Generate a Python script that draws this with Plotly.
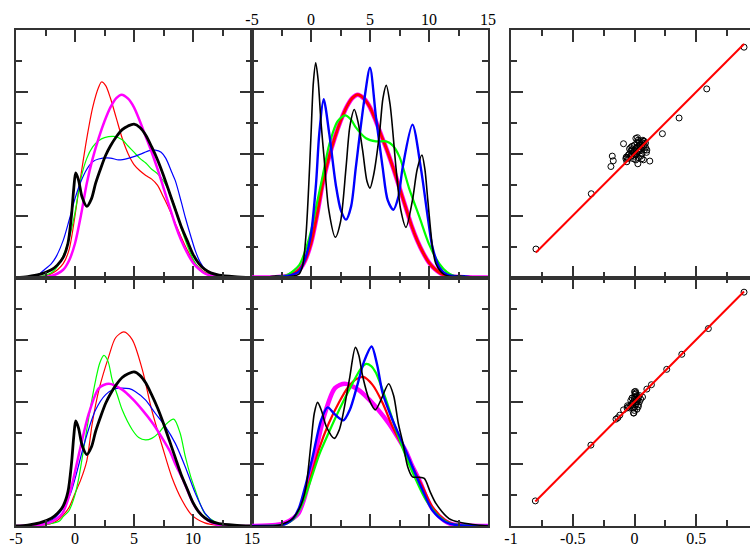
import numpy as np
import plotly.graph_objects as go

# ---------------- data ----------------
# density panels: x in [-5, 15], y in arbitrary density units (axis 0..8)
TL_RED_X = [-5, -3, -2, -1, -0.5, 0, 0.5, 1, 1.5, 2, 2.25, 2.6, 3, 3.5, 4, 4.5, 5, 5.5, 6, 6.5, 7, 7.5, 8, 8.5, 9, 9.5, 10, 10.5, 11, 12, 13, 15]
TL_RED_Y = [0, 0.02, 0.12, 0.45, 0.9, 2.0, 3.3, 4.5, 5.5, 6.15, 6.32, 6.2, 5.8, 5.15, 4.5, 4.0, 3.65, 3.45, 3.3, 3.18, 2.98, 2.6, 2.2, 1.75, 1.3, 0.9, 0.55, 0.32, 0.17, 0.04, 0.01, 0]

MAG_A_X = [-5, -3, -2, -1, -0.5, 0, 0.5, 1, 1.5, 2, 2.5, 3, 3.5, 3.95, 4.5, 5, 5.5, 6, 6.5, 7, 7.5, 8, 8.5, 9, 9.5, 10, 10.5, 11, 11.5, 12, 13, 15]
MAG_A_Y = [0, 0.01, 0.05, 0.25, 0.55, 1.1, 2.0, 3.05, 3.85, 4.5, 5.05, 5.5, 5.8, 5.91, 5.78, 5.5, 5.05, 4.55, 4.05, 3.5, 2.9, 2.3, 1.7, 1.2, 0.8, 0.48, 0.27, 0.13, 0.06, 0.03, 0.01, 0]

TL_GREEN_X = [-5, -3, -2, -1.35, -1, -0.5, 0, 0.5, 1, 1.5, 2, 2.5, 3.3, 4, 4.5, 5, 5.5, 6, 6.5, 7, 7.5, 8, 8.5, 9, 9.5, 10, 10.5, 11, 12, 15]
TL_GREEN_Y = [0, 0.03, 0.15, 0.43, 0.7, 1.25, 2.1, 3.2, 3.85, 4.22, 4.42, 4.52, 4.56, 4.45, 4.25, 4.05, 3.85, 3.7, 3.5, 3.35, 3.12, 2.75, 2.25, 1.6, 1.05, 0.6, 0.3, 0.15, 0.03, 0]

TL_BLUE_X = [-5, -4, -3, -2.76, -2, -1.63, -1, -0.5, 0, 0.5, 1, 1.5, 2, 3, 3.7, 4.5, 5.5, 6.3, 6.8, 7.3, 7.7, 8.2, 8.5, 9, 9.35, 9.8, 10.2, 10.6, 11, 11.5, 12.2, 13, 15]
TL_BLUE_Y = [0, 0.02, 0.12, 0.2, 0.45, 0.65, 1.2, 1.85, 2.55, 3.1, 3.5, 3.74, 3.83, 3.86, 3.8, 3.85, 3.98, 4.1, 4.12, 4.05, 3.85, 3.4, 3.13, 2.45, 1.94, 1.35, 0.86, 0.5, 0.28, 0.13, 0.04, 0.01, 0]

BLACK_REF_X = [-5, -4, -3, -2, -1.5, -1, -0.6, -0.3, -0.1, 0.06, 0.3, 0.6, 1.0, 1.4, 1.75, 2.2, 2.6, 3.0, 3.5, 4.0, 4.5, 5.0, 5.5, 6.0, 6.5, 7.0, 7.5, 8.0, 8.5, 9.0, 9.5, 10.0, 10.5, 11.0, 11.5, 12.2, 13.5, 15]
BLACK_REF_Y = [0, 0.03, 0.1, 0.25, 0.4, 0.65, 1.1, 2.0, 2.9, 3.38, 3.15, 2.6, 2.3, 2.55, 3.05, 3.55, 3.95, 4.25, 4.55, 4.78, 4.9, 4.96, 4.85, 4.6, 4.22, 3.8, 3.3, 2.75, 2.2, 1.65, 1.2, 0.75, 0.45, 0.26, 0.15, 0.08, 0.03, 0]

TM_GREEN_X = [-5, -3, -2, -1, -0.5, 0, 0.5, 1, 1.55, 2.26, 2.9, 3.4, 3.8, 4.66, 5.5, 6.36, 6.9, 7.5, 8.3, 9.2, 10, 10.9, 11.5, 12, 13, 15]
TM_GREEN_Y = [0, 0.02, 0.08, 0.4, 0.85, 1.5, 2.4, 3.3, 4.3, 5.05, 5.24, 5.1, 4.85, 4.5, 4.4, 4.4, 4.28, 3.9, 2.9, 1.94, 1.08, 0.43, 0.18, 0.07, 0.02, 0]

TM_BLUE_X = [-5, -3, -2, -1, -0.5, 0, 0.42, 0.7, 1.07, 1.55, 2.1, 2.54, 2.97, 3.4, 3.8, 4.5, 5.0, 5.5, 6.07, 6.5, 6.98, 7.4, 7.77, 8.6, 9.3, 9.9, 10.3, 10.9, 11.5, 12.5, 13, 13.5, 15]
TM_BLUE_Y = [0, 0.02, 0.05, 0.2, 0.6, 1.4, 3.0, 4.64, 5.76, 4.64, 3.0, 2.16, 1.87, 2.3, 3.56, 5.7, 6.78, 5.2, 3.56, 2.5, 2.19, 2.6, 3.56, 4.94, 3.56, 1.94, 0.97, 0.32, 0.1, 0.03, 0.04, 0.01, 0]

TM_BLACK_X = [-5, -3.5, -3, -2.5, -2, -1, -0.7, -0.42, -0.2, 0, 0.2, 0.4, 0.6, 0.85, 1.13, 1.5, 2.06, 2.5, 2.97, 3.3, 3.67, 4.0, 4.38, 4.75, 5.0, 5.3, 5.8, 6.1, 6.38, 6.7, 7.2, 7.6, 8.05, 8.6, 9.0, 9.4, 9.65, 9.9, 10.3, 10.6, 11.2, 12, 12.6, 13.2, 14, 15]
TM_BLACK_Y = [0, 0.02, 0.05, 0.03, 0.02, 0.12, 0.4, 1.4, 2.9, 4.6, 6.3, 6.94, 6.4, 5.0, 3.78, 2.2, 1.3, 1.8, 3.56, 4.9, 5.43, 5.0, 4.1, 3.1, 2.89, 3.3, 4.64, 5.8, 6.21, 5.6, 3.56, 2.2, 1.62, 2.5, 3.5, 3.96, 3.5, 2.5, 0.97, 0.43, 0.12, 0.03, 0.05, 0.02, 0, 0]

BL_RED_X = [-5, -3, -2, -1.5, -1, -0.5, 0, 0.5, 1, 1.46, 2.03, 2.87, 3.44, 4.14, 4.85, 5.7, 6.5, 7.4, 8.2, 9.07, 9.9, 11, 12, 15]
BL_RED_Y = [0, 0.02, 0.08, 0.18, 0.35, 0.6, 1.05, 1.5, 2.1, 3.3, 4.39, 5.47, 6.06, 6.25, 6.0, 5.04, 3.74, 2.56, 1.58, 0.83, 0.35, 0.1, 0.03, 0]

BL_GREEN_X = [-5, -3, -2, -1.35, -1, -0.5, 0, 0.34, 0.7, 1.04, 1.4, 1.75, 2.1, 2.45, 2.8, 3.15, 3.6, 4.0, 4.85, 5.4, 5.97, 6.5, 7.1, 7.66, 8.37, 8.9, 9.35, 9.8, 10.2, 10.6, 11, 11.9, 12.5, 15]
BL_GREEN_Y = [0, 0.02, 0.08, 0.15, 0.3, 0.5, 1.0, 1.58, 2.4, 3.2, 4.0, 4.7, 5.25, 5.49, 5.3, 4.71, 4.2, 3.74, 3.1, 2.85, 2.77, 2.82, 3.0, 3.26, 3.44, 3.0, 2.23, 1.6, 1.15, 0.72, 0.4, 0.13, 0.05, 0]

MAG_B_X = [-5, -3, -2.2, -1.5, -1.07, -0.6, -0.23, 0.48, 1.18, 2.03, 2.87, 4.0, 4.85, 5.7, 6.6, 7.66, 8.05, 8.5, 9.2, 9.8, 10.3, 11.3, 12, 15]
MAG_B_Y = [0, 0.03, 0.1, 0.25, 0.4, 0.85, 1.37, 2.56, 3.63, 4.44, 4.58, 4.39, 4.1, 3.74, 3.3, 2.66, 2.4, 2.0, 1.45, 0.9, 0.55, 0.17, 0.05, 0]

BL_BLUE_X = [-5, -3, -2, -1.6, -0.8, -0.37, 0.06, 0.9, 1.75, 2.6, 3.4, 4.0, 4.6, 5.1, 5.97, 6.8, 7.66, 8.5, 9.35, 10.2, 11.04, 11.9, 12.5, 15]
BL_BLUE_Y = [0, 0.05, 0.18, 0.3, 0.7, 1.05, 1.6, 2.8, 3.74, 4.23, 4.42, 4.44, 4.42, 4.33, 4.06, 3.63, 3.2, 2.66, 1.9, 1.05, 0.4, 0.1, 0.03, 0]

BM_RED_X = [-5, -3, -2.5, -2, -1.5, -1, -0.5, 0, 0.7, 1.5, 2.4, 3.2, 3.8, 4.43, 5.2, 6.07, 6.9, 7.77, 8.6, 9.46, 10.3, 11.4, 12.2, 15]
BM_RED_Y = [0, 0.01, 0.04, 0.1, 0.25, 0.55, 1.0, 1.6, 2.5, 3.3, 4.0, 4.5, 4.72, 4.8, 4.55, 3.96, 3.2, 2.55, 1.9, 1.26, 0.61, 0.18, 0.05, 0]

BM_GREEN_X = [-5, -2.5, -2, -1.5, -1, -0.5, 0, 0.7, 1.5, 2.4, 3.53, 4.2, 4.66, 5.1, 5.5, 6.36, 7.2, 8.05, 8.9, 9.75, 10.9, 11.8, 15]
BM_GREEN_Y = [0, 0.03, 0.09, 0.22, 0.5, 0.95, 1.5, 2.3, 3.0, 3.75, 4.6, 5.05, 5.22, 5.15, 4.93, 4.06, 3.1, 2.23, 1.48, 0.83, 0.29, 0.08, 0]

BM_BLUE_X = [-5, -2.5, -2, -1.5, -1, -0.42, 0.14, 0.85, 1.41, 2.0, 2.74, 3.3, 3.9, 4.5, 5.14, 5.6, 6.07, 6.9, 7.77, 8.6, 9.46, 10.3, 11.4, 12.2, 15]
BM_BLUE_Y = [0, 0.03, 0.1, 0.25, 0.6, 1.37, 2.23, 3.4, 3.82, 3.6, 3.4, 3.75, 4.5, 5.3, 5.78, 5.2, 4.28, 3.42, 2.66, 1.9, 1.15, 0.5, 0.13, 0.04, 0]

BM_BLACK_X = [-5, -3, -2.5, -1.55, -1, -0.7, -0.42, 0, 0.28, 0.56, 0.9, 1.3, 1.98, 2.4, 2.68, 3.25, 3.76, 4.05, 4.38, 4.94, 5.45, 5.93, 6.58, 7.0, 7.4, 7.77, 8.2, 8.6, 9.1, 9.6, 10.1, 10.6, 11.7, 12.6, 13.7, 15]
BM_BLACK_Y = [0, 0.01, 0.05, 0.24, 0.55, 0.83, 1.26, 2.66, 3.63, 3.98, 3.7, 3.2, 2.82, 3.1, 3.53, 4.71, 5.75, 5.5, 4.82, 4.06, 3.74, 4.06, 4.58, 4.2, 3.3, 2.7, 1.9, 1.58, 1.57, 1.53, 1.1, 0.72, 0.24, 0.12, 0.05, 0]

# scatter panels
TR_X = [-0.798, -0.35, 0.887, 0.585, 0.361, 0.226, -0.089, -0.18, -0.172, -0.191, 0.124, 0.011, 0.024, 0.089, 0.097, 0.027, 0.073, -0.067, -0.062, 0.068,
        -0.06, -0.05, -0.04, -0.03, -0.02, -0.01, 0.0, 0.01, 0.02, 0.03, 0.04, 0.05, 0.06, 0.07, -0.05, -0.03, -0.02, 0.0, 0.01, 0.02,
        0.03, 0.04, 0.05, 0.06, 0.07, 0.08, -0.04, -0.02, 0.0, 0.02, 0.04, -0.01, 0.01, 0.03, 0.05, 0.06, 0.08, 0.09, -0.07, 0.0,
        -0.03, 0.03, 0.08, 0.1, 0.06]
TR_Y = [-0.77, -0.323, 0.861, 0.524, 0.289, 0.162, 0.081, -0.019, -0.057, -0.103, -0.059, 0.124, 0.13, 0.086, 0.011, -0.081, -0.049, -0.027, -0.065, 0.109,
        -0.03, -0.01, 0.0, 0.02, 0.03, 0.01, 0.02, 0.04, 0.05, 0.06, 0.07, 0.08, 0.09, 0.1, -0.04, -0.02, 0.0, 0.0, -0.01, 0.0,
        0.02, 0.03, 0.04, 0.05, 0.06, 0.07, 0.04, 0.06, 0.07, 0.09, 0.1, -0.04, -0.05, -0.03, -0.02, 0.0, 0.03, 0.05, -0.04, -0.02,
        0.05, 0.11, 0.1, 0.03, -0.04]

BR_X = [-0.803, -0.353, 0.261, 0.383, 0.598, 0.887, 0.137, 0.1, 0.065, 0.008, -0.135, -0.119, -0.089, -0.057, -0.008, 0.032, -0.15,
        0.0, 0.005, 0.01, 0.0, -0.01, -0.02, -0.01, 0.0, -0.005, 0.02, 0.03, 0.02, 0.01, 0.03, 0.04, 0.05, -0.03, -0.04, -0.02, 0.01,
        0.02, 0.0, -0.03, 0.04, -0.05, -0.06, 0.015, -0.015, 0.025, -0.005]
BR_Y = [-0.798, -0.349, 0.261, 0.382, 0.589, 0.882, 0.137, 0.102, 0.038, 0.083, -0.129, -0.108, -0.065, -0.032, -0.091, -0.024, -0.14,
        0.08, 0.06, 0.04, 0.02, 0.0, -0.02, -0.05, -0.07, -0.09, 0.05, 0.03, 0.0, -0.02, -0.04, 0.0, 0.02, -0.03, -0.05, 0.03, 0.07,
        -0.06, -0.04, 0.01, 0.05, -0.04, -0.05, 0.02, -0.01, 0.015, 0.035]

DENS_TICKS = [-5, 0, 5, 10, 15]
DENS_LABELS = ["-5", "0", "5", "10", "15"]
DENS_MINOR = [-2.5, 2.5, 7.5, 12.5]
SC_TICKS = [-1, -0.5, 0, 0.5]
SC_LABELS = ["-1", "-0.5", "0", "0.5"]
SC_MINOR = [-0.75, -0.25, 0.25, 0.75]

# ---------------- layout helpers ----------------
W, H = 750, 545
def fx(p):
    return p / W
def fy(p):
    return 1 - p / H

LEFT, MID = (16, 252), (252, 488)
RIGHT = (511, 750)           # right panel is cut by the window edge (full frame would end at ~758)
RIGHT_XMAX = -1 + 2 * (750 - 511) / (758 - 511)
ROW1, ROW2 = (30, 277.5), (277.5, 526)

FRAME = "#333333"
FONT = dict(family="Liberation Serif, Times New Roman, serif", size=16, color="black")

def axis(dom, rng, tv, tt, minor, show, side=None, mirror="allticks"):
    d = dict(domain=dom, range=rng, showline=True, linecolor=FRAME, linewidth=1.5, mirror=mirror,
             ticks="inside", ticklen=12, tickwidth=1.5, tickcolor=FRAME,
             tickmode="array", tickvals=tv, ticktext=tt, showticklabels=show, tickfont=FONT,
             ticklabelstandoff=-3,
             showgrid=False, zeroline=False, fixedrange=True, automargin=False,
             minor=dict(ticks="inside", ticklen=6, tickwidth=1.5, tickcolor=FRAME,
                        tickmode="array", tickvals=minor, showgrid=False))
    if side:
        d["side"] = side
    return d

fig = go.Figure()

def curve(x, y, color, width, n):
    fig.add_trace(go.Scatter(x=x, y=y, mode="lines", line=dict(color=color, width=width, shape="spline", smoothing=0.8),
                             xaxis="x" + ("" if n == 1 else str(n)), yaxis="y" + ("" if n == 1 else str(n)),
                             hoverinfo="skip", showlegend=False))

# panel 1: top-left
curve(TL_RED_X, TL_RED_Y, "#ff0000", 1.2, 1)
curve(TL_GREEN_X, TL_GREEN_Y, "#00ff00", 1.2, 1)
curve(TL_BLUE_X, TL_BLUE_Y, "#0000ff", 1.2, 1)
curve(MAG_A_X, MAG_A_Y, "#ff00ff", 2.5, 1)
curve(BLACK_REF_X, BLACK_REF_Y, "#000000", 2.8, 1)

# panel 2: top-middle
curve(MAG_A_X, MAG_A_Y, "#ff00ff", 4.5, 2)
curve(MAG_A_X, MAG_A_Y, "#ff0000", 2.8, 2)
curve(TM_GREEN_X, TM_GREEN_Y, "#00ff00", 2.2, 2)
curve(TM_BLUE_X, TM_BLUE_Y, "#0000ff", 2.4, 2)
curve(TM_BLACK_X, TM_BLACK_Y, "#000000", 1.6, 2)

# panel 4: bottom-left
curve(BL_RED_X, BL_RED_Y, "#ff0000", 1.2, 4)
curve(BL_GREEN_X, BL_GREEN_Y, "#00ff00", 1.2, 4)
curve(BL_BLUE_X, BL_BLUE_Y, "#0000ff", 1.2, 4)
curve(MAG_B_X, MAG_B_Y, "#ff00ff", 2.5, 4)
curve(BLACK_REF_X, BLACK_REF_Y, "#000000", 2.8, 4)

# panel 5: bottom-middle
curve(MAG_B_X, MAG_B_Y, "#ff00ff", 4.5, 5)
curve(BM_RED_X, BM_RED_Y, "#ff0000", 2.2, 5)
curve(BM_GREEN_X, BM_GREEN_Y, "#00ff00", 2.2, 5)
curve(BM_BLUE_X, BM_BLUE_Y, "#0000ff", 2.4, 5)
curve(BM_BLACK_X, BM_BLACK_Y, "#000000", 1.6, 5)

# scatter panels with the identity (y = x) reference line over the data range
def scatter(xs, ys, n):
    xs = np.asarray(xs); ys = np.asarray(ys)
    fig.add_trace(go.Scatter(x=xs, y=ys, mode="markers",
                             marker=dict(symbol="circle-open", size=6, color="black", line=dict(width=1, color="black")),
                             xaxis="x%d" % n, yaxis="y%d" % n, hoverinfo="skip", showlegend=False))
    lx = np.array([xs.min(), xs.max()])
    fig.add_trace(go.Scatter(x=lx, y=lx, mode="lines", line=dict(color="#ff0000", width=2),
                             xaxis="x%d" % n, yaxis="y%d" % n, hoverinfo="skip", showlegend=False))

scatter(TR_X, TR_Y, 3)
scatter(BR_X, BR_Y, 6)

dens_y = [0, 8]
yt = [0, 2, 4, 6, 8]; ym = [1, 3, 5, 7]
syt = [-1, -0.5, 0, 0.5, 1]

fig.update_layout(
    width=W, height=H, margin=dict(l=0, r=0, t=0, b=0, pad=0),
    paper_bgcolor="white", plot_bgcolor="white", showlegend=False,
    xaxis=axis([fx(LEFT[0]), fx(LEFT[1])], [-5, 15], DENS_TICKS, DENS_LABELS, DENS_MINOR, False),
    yaxis=axis([fy(ROW1[1]), fy(ROW1[0])], dens_y, yt, None, ym, False),
    xaxis2=axis([fx(MID[0]), fx(MID[1])], [-5, 15], DENS_TICKS, DENS_LABELS, DENS_MINOR, True, side="top"),
    yaxis2=axis([fy(ROW1[1]), fy(ROW1[0])], dens_y, yt, None, ym, False),
    xaxis3=axis([fx(RIGHT[0]), fx(RIGHT[1])], [-1, RIGHT_XMAX], SC_TICKS, SC_LABELS, SC_MINOR, False),
    yaxis3=axis([fy(ROW1[1]), fy(ROW1[0])], [-1, 1], syt, None, SC_MINOR, False, mirror=False),
    xaxis4=axis([fx(LEFT[0]), fx(LEFT[1])], [-5, 15], DENS_TICKS, DENS_LABELS, DENS_MINOR, True),
    yaxis4=axis([fy(ROW2[1]), fy(ROW2[0])], dens_y, yt, None, ym, False),
    xaxis5=axis([fx(MID[0]), fx(MID[1])], [-5, 15], DENS_TICKS, DENS_LABELS, DENS_MINOR, False),
    yaxis5=axis([fy(ROW2[1]), fy(ROW2[0])], dens_y, yt, None, ym, False),
    xaxis6=axis([fx(RIGHT[0]), fx(RIGHT[1])], [-1, RIGHT_XMAX], SC_TICKS, SC_LABELS, SC_MINOR, True),
    yaxis6=axis([fy(ROW2[1]), fy(ROW2[0])], [-1, 1], syt, None, SC_MINOR, False, mirror=False),
)
for i in range(1, 7):
    s = "" if i == 1 else str(i)
    fig.layout["xaxis" + s].anchor = "y" + s
    fig.layout["yaxis" + s].anchor = "x" + s

fig.write_html("out.html", config={"displayModeBar": False, "responsive": False},
               post_script="document.body.style.margin='0';document.body.style.overflow='hidden';"
                           "document.documentElement.style.overflow='hidden';")
